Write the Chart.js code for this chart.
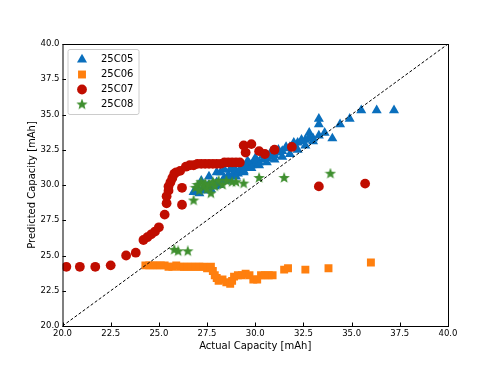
<!DOCTYPE html>
<html>
<head>
<meta charset="utf-8">
<script src="https://cdn.jsdelivr.net/npm/chart.js@4/dist/chart.umd.min.js"></script>
<style>
  body { margin: 0; background: #fff; }
  canvas { display: block; }
</style>
</head>
<body>
<canvas id="capacity-chart" width="498" height="374"></canvas>
<script>
const seriesNames = ["25C05", "25C06", "25C07", "25C08"];

// [actual, predicted] pairs
const cell05 = [
  [26.8,29.5],[27.0,29.7],[27.1,29.4],[27.3,29.8],[27.4,29.6],[27.5,29.9],[27.6,30.0],[27.7,29.7],
  [27.8,30.1],[27.9,29.9],[28.0,30.2],[28.1,30.0],[28.2,30.9],[28.3,30.3],[28.4,30.5],[28.5,30.3],
  [28.6,30.7],[28.7,31.1],[28.8,30.6],[28.9,30.9],[29.0,31.0],[29.1,30.8],[29.2,31.1],[29.3,31.2],
  [29.4,31.0],[29.5,31.3],[29.6,31.2],[29.7,31.5],[29.8,31.4],[29.9,31.6],[30.0,31.5],[30.1,31.7],
  [30.2,31.6],[30.4,31.8],[30.6,31.9],[30.8,32.0],[31.0,32.1],[31.2,32.3],[31.4,32.4],[31.6,32.6],
  [31.8,32.7],[32.0,32.9],[32.2,33.0],[32.4,33.1],[32.6,33.2],[32.8,33.7],[33.0,33.3],[33.3,33.5],
  [33.3,34.3],[33.3,34.7],[33.6,33.7],[34.0,33.3],[34.4,34.3],[34.9,34.7],[35.5,35.3],[36.3,35.3],
  [37.2,35.3],
  [27.2,30.3],[27.6,30.6],[28.0,30.9],[28.4,31.1],[28.8,31.3],[29.2,31.5],[29.6,31.7],[30.0,31.9],
  [30.4,32.1],[30.8,32.3],[31.2,32.5],[31.6,32.7],[32.0,33.0],[32.4,33.2],[32.8,33.4],
  [28.6,30.4],[29.0,30.6],[29.4,30.9],[29.8,31.2],[30.2,31.4],[30.6,31.6],[31.0,31.8],[31.4,32.0],
  [31.8,32.2],[32.2,32.5],[32.6,32.8],[33.0,33.1]
];
const cell06 = [
  [24.3,24.3],[24.5,24.3],[24.7,24.3],[24.9,24.3],[25.1,24.3],[25.3,24.3],[25.5,24.2],[25.7,24.2],
  [25.9,24.3],[26.1,24.2],[26.3,24.2],[26.5,24.2],[26.7,24.2],[26.9,24.2],[27.1,24.2],[27.3,24.2],
  [27.5,24.1],[27.7,24.2],[27.8,23.9],[27.9,23.6],[28.0,23.4],[28.1,23.2],[28.3,23.3],[28.5,23.1],
  [28.7,23.0],[28.8,23.2],[28.9,23.5],[29.1,23.6],[29.3,23.6],[29.5,23.7],[29.7,23.6],[29.9,23.3],
  [30.1,23.3],[30.3,23.6],[30.5,23.6],[30.7,23.6],[30.9,23.6],[31.5,24.0],[31.7,24.1],[32.6,24.0],
  [33.8,24.1],[36.0,24.5]
];
const cell07 = [
  [20.2,24.2],[20.9,24.2],[21.7,24.2],[22.5,24.3],[23.3,25.0],[23.8,25.2],[24.2,26.1],[24.4,26.3],
  [24.6,26.5],[24.8,26.7],[25.0,27.0],[25.3,27.9],[25.4,28.7],[25.4,29.2],[25.5,29.6],[25.5,29.9],
  [25.6,30.2],[25.7,30.5],[25.8,30.8],[25.9,30.9],[26.1,31.0],[26.2,29.8],[26.2,28.6],[26.4,31.3],
  [26.6,31.4],[26.8,31.4],[27.0,31.5],[27.2,31.5],[27.4,31.5],[27.6,31.5],[27.8,31.5],[28.0,31.5],
  [28.2,31.5],[28.4,31.6],[28.6,31.6],[28.8,31.6],[29.0,31.6],[29.2,31.6],[29.4,32.8],[29.5,32.3],
  [29.8,32.9],[30.2,32.4],[30.5,32.2],[31.0,32.5],[31.9,32.7],[33.3,29.9],[35.7,30.1]
];
const cell08 = [
  [25.8,25.4],[26.0,25.3],[26.5,25.3],[26.8,28.9],[26.9,29.8],[27.0,30.0],[27.1,29.6],[27.2,30.2],
  [27.3,29.9],[27.4,30.1],[27.5,29.7],[27.6,30.0],[27.7,29.4],[27.8,30.2],[27.9,29.9],[28.1,30.3],
  [28.3,30.0],[28.5,30.3],[28.8,30.2],[29.0,30.2],[29.4,30.1],[30.2,30.5],[31.5,30.5],[33.9,30.8]
];
const axisTicks = [20, 22.5, 25, 27.5, 30, 32.5, 35, 37.5, 40];

const colors = ["#0a6fbd", "#ff7f0e", "#c00d00", "#3f8f2f"];

function toPoints(pairs) {
  return pairs.map((p) => ({ x: p[0], y: p[1] }));
}

// filled five point star, chart.js "star" is only an asterisk
function makeStar(color, size) {
  const c = document.createElement("canvas");
  c.width = size;
  c.height = size;
  const ctx = c.getContext("2d");
  const cx = size / 2, cy = size / 2, outer = size / 2, inner = outer * 0.42;
  ctx.beginPath();
  for (let i = 0; i < 10; i++) {
    const r = i % 2 === 0 ? outer : inner;
    const a = -Math.PI / 2 + (i * Math.PI) / 5;
    const px = cx + Math.cos(a) * r;
    const py = cy + Math.sin(a) * r;
    if (i === 0) ctx.moveTo(px, py);
    else ctx.lineTo(px, py);
  }
  ctx.closePath();
  ctx.fillStyle = color;
  ctx.fill();
  return c;
}

const starImg = makeStar(colors[3], 12);
const pointStyles = ["triangle", "rect", "circle", starImg];
const pointRadii = [5.8, 5.6, 4.9, 6];

const frameAndLegend = {
  id: "frameAndLegend",
  afterDraw(chart) {
    const ctx = chart.ctx;
    const area = chart.chartArea;
    const xs = chart.scales.x, ys = chart.scales.y;
    ctx.save();
    ctx.strokeStyle = "#000";
    ctx.lineWidth = 1;
    // inward ticks
    ctx.beginPath();
    axisTicks.forEach((t) => {
      const px = Math.round(xs.getPixelForValue(t)) + 0.5;
      ctx.moveTo(px, area.bottom);
      ctx.lineTo(px, area.bottom - 3.5);
      const py = Math.round(ys.getPixelForValue(t)) + 0.5;
      ctx.moveTo(area.left, py);
      ctx.lineTo(area.left + 3.5, py);
    });
    ctx.stroke();
    ctx.strokeRect(area.left + 0.5, area.top + 0.5, area.right - area.left, area.bottom - area.top);

    // legend box
    const bx = area.left + 5, by = area.top + 5, bw = 71, bh = 65;
    ctx.fillStyle = "rgba(255,255,255,0.8)";
    ctx.strokeStyle = "#cccccc";
    ctx.beginPath();
    ctx.roundRect(bx + 0.5, by + 0.5, bw, bh, 2);
    ctx.fill();
    ctx.stroke();
    ctx.font = "10px 'DejaVu Sans'";
    ctx.textBaseline = "middle";
    ctx.fillStyle = "#000";
    seriesNames.forEach((name, i) => {
      const rowY = by + 10.5 + i * 15;
      ctx.fillStyle = colors[i];
      ctx.strokeStyle = colors[i];
      Chart.helpers.drawPoint(ctx, {
        pointStyle: pointStyles[i],
        radius: pointRadii[i],
        rotation: 0,
        borderWidth: 0
      }, bx + 14.5, rowY);
      ctx.fillStyle = "#000";
      ctx.fillText(name, bx + 33.5, rowY);
    });
    ctx.restore();
  }
};

const seriesData = [cell05, cell06, cell07, cell08];
const datasets = seriesData.map((pairs, i) => ({
  label: seriesNames[i],
  data: toPoints(pairs),
  pointStyle: pointStyles[i],
  pointRadius: pointRadii[i],
  pointHoverRadius: pointRadii[i],
  backgroundColor: colors[i],
  borderColor: colors[i],
  borderWidth: 0,
  order: 4 - i
}));

datasets.push({
  type: "line",
  label: "ideal",
  data: [{ x: 20, y: 20 }, { x: 40, y: 40 }],
  borderColor: "#000",
  borderWidth: 1,
  borderDash: [3, 2],
  pointRadius: 0,
  fill: false,
  order: 0
});

const tickFont = { family: "'DejaVu Sans'", size: 8.5 };
const titleFont = { family: "'DejaVu Sans'", size: 10 };

new Chart(document.getElementById("capacity-chart").getContext("2d"), {
  type: "scatter",
  data: { datasets },
  options: {
    responsive: false,
    animation: false,
    devicePixelRatio: 1,
    layout: { padding: { top: 44, right: 50, left: 26, bottom: 22 } },
    plugins: {
      legend: { display: false },
      tooltip: { enabled: false }
    },
    scales: {
      x: {
        type: "linear",
        min: 20,
        max: 40,
        afterBuildTicks: (scale) => { scale.ticks = axisTicks.map((v) => ({ value: v })); },
        afterFit: (scale) => { scale.height = 26; },
        grid: { display: false, drawTicks: false },
        border: { display: false },
        ticks: {
          color: "#000",
          font: tickFont,
          padding: 3,
          maxRotation: 0,
          callback: (v) => Number(v).toFixed(1)
        },
        title: {
          display: true,
          text: "Actual Capacity [mAh]",
          color: "#000",
          font: titleFont,
          padding: { top: 0, bottom: 0 }
        }
      },
      y: {
        type: "linear",
        min: 20,
        max: 40,
        afterBuildTicks: (scale) => { scale.ticks = axisTicks.map((v) => ({ value: v })); },
        afterFit: (scale) => { scale.width = 36.5; },
        grid: { display: false, drawTicks: false },
        border: { display: false },
        ticks: {
          color: "#000",
          font: tickFont,
          padding: 3,
          callback: (v) => Number(v).toFixed(1)
        },
        title: {
          display: true,
          text: "Predicted Capacity [mAh]",
          color: "#000",
          font: titleFont,
          padding: { top: 0, bottom: 0 }
        }
      }
    }
  },
  plugins: [frameAndLegend]
});
</script>
</body>
</html>
